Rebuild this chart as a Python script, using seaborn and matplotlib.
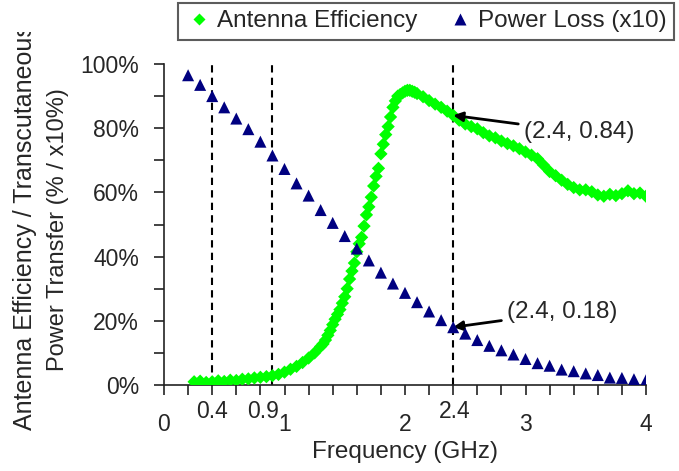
import matplotlib
matplotlib.use("Agg")
import matplotlib.pyplot as plt
import seaborn as sns
from matplotlib.lines import Line2D
from matplotlib.ticker import MultipleLocator, PercentFormatter
from matplotlib.transforms import Bbox, TransformedBbox, blended_transform_factory

# ---- data ----
freq_eff = [0.25, 0.30, 0.35, 0.40, 0.45, 0.50, 0.55, 0.60, 0.65, 0.70,
            0.75, 0.80, 0.85, 0.90, 0.95, 1.00, 1.05, 1.10, 1.15, 1.20,
            1.25, 1.30, 1.32, 1.34, 1.36, 1.38, 1.40, 1.42, 1.44, 1.46,
            1.48, 1.50, 1.52, 1.54, 1.56, 1.58, 1.60, 1.62, 1.64, 1.66,
            1.68, 1.70, 1.72, 1.74, 1.76, 1.78, 1.80, 1.82, 1.84, 1.86,
            1.88, 1.90, 1.92, 1.94, 1.96, 1.98, 2.00, 2.02, 2.04, 2.06,
            2.08, 2.10, 2.15, 2.20, 2.25, 2.30, 2.35, 2.40, 2.45, 2.50,
            2.55, 2.60, 2.65, 2.70, 2.75, 2.80, 2.85, 2.90, 2.95, 3.00,
            3.05, 3.10, 3.15, 3.20, 3.25, 3.30, 3.35, 3.40, 3.45, 3.50,
            3.55, 3.60, 3.65, 3.70, 3.75, 3.80, 3.85, 3.90, 3.95, 4.00]
efficiency = [1.0, 1.2, 0.8, 1.0, 1.3, 1.1, 1.5, 1.4, 1.8, 1.9,
              2.2, 2.4, 2.6, 2.9, 3.3, 4.0, 4.9, 5.8, 7.0, 8.4,
              10.0, 12.0, 12.8, 14.0, 15.5, 17.0, 18.8, 20.5, 22.0, 23.5,
              25.5, 27.5, 30.0, 33.0, 35.5, 38.0, 41.5, 44.0, 46.0, 49.5,
              53.0, 55.5, 58.5, 62.0, 65.0, 67.5, 72.0, 75.0, 78.0, 80.5,
              83.5, 86.5, 88.5, 90.0, 90.5, 91.0, 91.5, 91.8, 91.8, 91.5,
              91.2, 90.8, 89.8, 88.6, 87.5, 86.5, 85.3, 84.0, 82.5, 81.3,
              80.5, 79.8, 78.6, 77.6, 77.0, 76.0, 75.2, 74.5, 73.6, 72.6,
              71.6, 70.5, 68.5, 66.5, 65.2, 63.8, 62.5, 61.5, 60.8, 60.8,
              60.2, 59.2, 58.8, 59.4, 59.0, 59.6, 60.5, 59.6, 59.8, 58.8]

freq_loss = [0.2, 0.3, 0.4, 0.5, 0.6, 0.7, 0.8, 0.9, 1.0, 1.1,
             1.2, 1.3, 1.4, 1.5, 1.6, 1.7, 1.8, 1.9, 2.0, 2.1,
             2.2, 2.3, 2.4, 2.5, 2.6, 2.7, 2.8, 2.9, 3.0, 3.1,
             3.2, 3.3, 3.4, 3.5, 3.6, 3.7, 3.8, 3.9, 4.0]
power_loss = [96.5, 93.5, 90.0, 86.5, 83.0, 79.7, 75.8, 71.5, 67.3, 62.8,
              59.0, 54.5, 50.5, 46.4, 42.5, 38.8, 35.0, 31.6, 28.7, 25.8,
              22.9, 20.2, 18.0, 16.0, 14.0, 12.2, 10.8, 9.5, 8.1, 6.8,
              6.0, 4.8, 4.3, 3.6, 3.1, 2.3, 2.2, 1.8, 1.5]

marked_freqs = [0.4, 0.9, 2.4]
marked_labels = ["0.4", "0.9", "2.4"]
marked_label_x = [0.40, 0.82, 2.41]

GREEN = "#00ff00"
NAVY = "#000080"

sns.set_style("ticks")
plt.rcParams["font.family"] = ["Liberation Sans", "DejaVu Sans"]

W, H = 679, 471
fig = plt.figure(figsize=(W / 100, H / 100), dpi=100)
ax = fig.add_axes([164 / W, (H - 385) / H, 482 / W, 321 / H])

sns.scatterplot(x=freq_eff, y=efficiency, marker="D", s=46, color=GREEN,
                edgecolor="none", linewidth=0, ax=ax, zorder=3)
sns.scatterplot(x=freq_loss, y=power_loss, marker="^", s=75, color=NAVY,
                edgecolor="none", linewidth=0, ax=ax, zorder=4)

# dashed marker lines
for f in marked_freqs:
    ax.axvline(f, color="black", ls=(0, (3.5, 2.5)), lw=1.5, zorder=2)

ax.set_xlim(0, 4)
ax.set_ylim(0, 100)
ax.xaxis.set_major_locator(MultipleLocator(1))
ax.xaxis.set_minor_locator(MultipleLocator(0.2))
ax.yaxis.set_major_locator(MultipleLocator(20))
ax.yaxis.set_minor_locator(MultipleLocator(10))
ax.yaxis.set_major_formatter(PercentFormatter(100, decimals=0))
ax.tick_params(which="both", direction="out", length=7, width=1.2, color="#222222")
ax.tick_params(axis="y", which="major", labelsize=16.5, pad=11)
ax.tick_params(axis="x", which="major", labelsize=16.5, pad=13)
for s in ["top", "right"]:
    ax.spines[s].set_visible(False)
for s in ["left", "bottom"]:
    ax.spines[s].set_linewidth(1.2)
    ax.spines[s].set_color("#222222")

trans = blended_transform_factory(ax.transData, ax.transAxes)
for xl, lab in zip(marked_label_x, marked_labels):
    ax.text(xl, -0.081, lab, transform=trans, ha="center", va="center", fontsize=16.5)

ax.set_xlabel("Frequency (GHz)", fontsize=17.5, labelpad=4)

# two-line y label, first line cut at the top like the original
clip = TransformedBbox(Bbox.from_extents(0, 0, 1, 1 - 32 / H), fig.transFigure)
t1 = fig.text(25 / W, 1 - 227 / H, "Antenna Efficiency / Transcutaneous",
              rotation=90, ha="center", va="center", fontsize=18)
t1.set_clip_box(clip)
t1.set_clip_on(True)
fig.text(58 / W, 1 - 230 / H, "Power Transfer (% / x10%)",
         rotation=90, ha="center", va="center", fontsize=17)

arrow = dict(arrowstyle="-|>", color="black", lw=2, mutation_scale=14,
             shrinkA=2, shrinkB=0)
ax.annotate("(2.4, 0.84)", xy=(2.4, 84), xytext=(2.99, 78.8),
            ha="left", va="center", fontsize=17.5, arrowprops=arrow)
ax.annotate("(2.4, 0.18)", xy=(2.4, 18), xytext=(2.85, 22.7),
            ha="left", va="center", fontsize=17.5, arrowprops=arrow)

handles = [
    Line2D([], [], ls="none", marker="D", ms=6, color=GREEN, mec="none"),
    Line2D([], [], ls="none", marker="^", ms=8, color=NAVY, mec="none"),
]
leg = fig.legend(handles, ["Antenna Efficiency", "Power Loss (x10)"],
                 loc="upper left", bbox_to_anchor=(178 / W, 1 - 3 / H),
                 ncol=2, fontsize=17.5, frameon=True, fancybox=False,
                 borderaxespad=0, borderpad=0.3, handlelength=1.1,
                 handletextpad=0.2, columnspacing=1.2)
leg.get_frame().set_edgecolor("#333333")
leg.get_frame().set_linewidth(1.5)

fig.savefig("out.png", dpi=100)
